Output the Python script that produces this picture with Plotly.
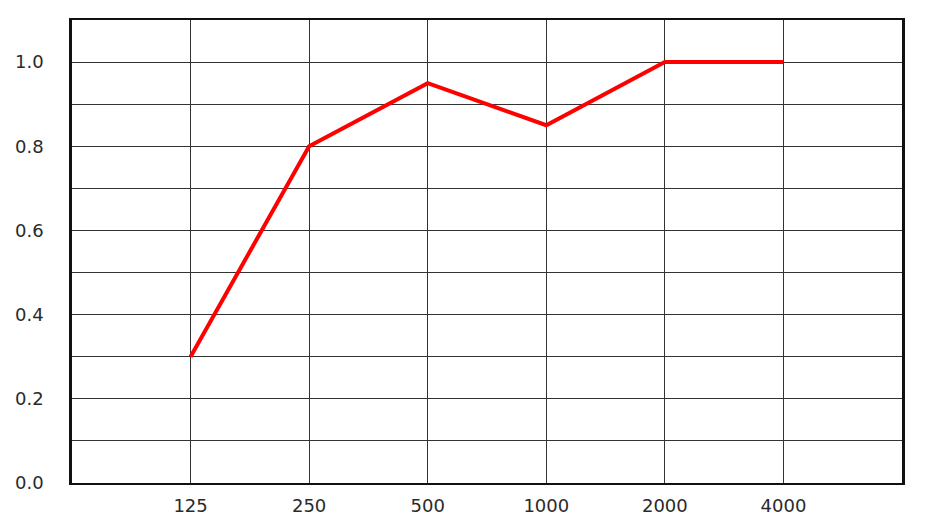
import plotly.graph_objects as go

frequencies = ["125", "250", "500", "1000", "2000", "4000"]
absorption = [0.30, 0.80, 0.95, 0.85, 1.00, 1.00]
y_ticks = [0.0, 0.2, 0.4, 0.6, 0.8, 1.0]

x_pos = list(range(1, len(frequencies) + 1))

fig = go.Figure()
fig.add_trace(go.Scatter(
    x=x_pos, y=absorption, mode="lines",
    line=dict(color="#ff0000", width=4),
    showlegend=False, hoverinfo="skip",
))

font = dict(family="'DejaVu Sans', sans-serif", size=18, color="#2a2a2a")

fig.update_layout(
    width=940, height=527,
    margin=dict(l=72, r=38, t=20, b=44, pad=0, autoexpand=False),
    paper_bgcolor="white", plot_bgcolor="white",
    font=font,
    xaxis=dict(
        range=[0, len(frequencies) + 1],
        tickmode="array", tickvals=x_pos, ticktext=frequencies,
        showgrid=True, gridcolor="#333333", gridwidth=1,
        showline=True, linecolor="#111111", linewidth=2, mirror=True,
        zeroline=False, ticks="", ticklabelstandoff=5,
        fixedrange=True, automargin=False,
    ),
    yaxis=dict(
        range=[0, 1.1],
        tickmode="array", tickvals=y_ticks, tickformat=".1f",
        showgrid=True, gridcolor="#333333", gridwidth=1,
        minor=dict(dtick=0.1, tick0=0, showgrid=True, gridcolor="#333333", gridwidth=1),
        showline=True, linecolor="#111111", linewidth=2.5, mirror=True,
        zeroline=False, ticks="", ticklabelstandoff=22,
        fixedrange=True, automargin=False,
    ),
)

fig.write_html(
    "out.html",
    config={"displayModeBar": False},
    post_script="document.body.style.margin='0';document.body.style.overflow='hidden';",
)
